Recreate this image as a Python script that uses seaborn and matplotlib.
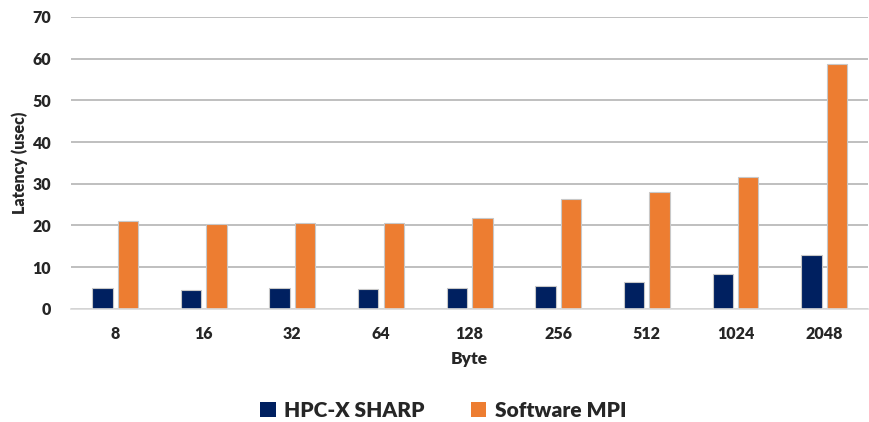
import pandas as pd
import matplotlib.pyplot as plt
import seaborn as sns
from matplotlib.patches import Patch

sns.set_style("white")
plt.rcParams["font.family"] = ["Lato", "DejaVu Sans"]
plt.rcParams["font.weight"] = "bold"

# ---------------------------------------------------------
# Data
# ---------------------------------------------------------
sizes = ["8", "16", "32", "64", "128", "256", "512", "1024", "2048"]
sharp = [5.0, 4.5, 5.0, 4.7, 5.0, 5.5, 6.5, 8.4, 12.9]
mpi = [21.0, 20.3, 20.5, 20.7, 21.7, 26.3, 28.0, 31.6, 58.6]
series = ["HPC-X SHARP", "Software MPI"]
colors = ["#002060", "#ED7D31"]

df = pd.DataFrame({
    "Byte": sizes * 2,
    "Latency": sharp + mpi,
    "Series": [series[0]] * len(sizes) + [series[1]] * len(sizes),
})

fig = plt.figure(figsize=(8.69, 4.22), dpi=100)
ax = fig.add_axes([0.0814, 0.268, 0.918, 0.692])

sns.barplot(data=df, x="Byte", y="Latency", hue="Series", order=sizes,
            hue_order=series, palette=colors, saturation=1, width=0.575, gap=0.2,
            edgecolor="#c8c8c8", linewidth=0.8, ax=ax, legend=False)

ax.set_ylim(0, 70)
ax.set_yticks(range(0, 71, 10))
ax.yaxis.grid(True, color="#b4b4b4", linewidth=1.2)
ax.set_axisbelow(True)
for s in ["top", "right", "left"]:
    ax.spines[s].set_visible(False)
ax.spines["bottom"].set_color("#d9d9d9")
ax.spines["bottom"].set_linewidth(1.2)
ax.tick_params(axis="both", length=0, labelsize=11.5, colors="#262626")
ax.tick_params(axis="x", pad=12)
ax.tick_params(axis="y", pad=14)
for t in ax.get_xticklabels() + ax.get_yticklabels():
    t.set_fontweight("heavy")

ax.set_xlabel("Byte", fontsize=12.5, fontweight="heavy", color="#262626", labelpad=7)
ax.set_ylabel("Latency (usec)", fontsize=11.5, fontweight="heavy", color="#262626", labelpad=3)

handles = [Patch(facecolor=c, edgecolor="none") for c in colors]
fig.legend(handles, series, loc="center", bbox_to_anchor=(0.51, 0.027), ncol=2,
           frameon=False, handlelength=0.75, handleheight=0.75, handletextpad=0.4,
           columnspacing=2.2, prop={"size": 15, "weight": "heavy"})

plt.savefig("out.png", dpi=100)
plt.close()
